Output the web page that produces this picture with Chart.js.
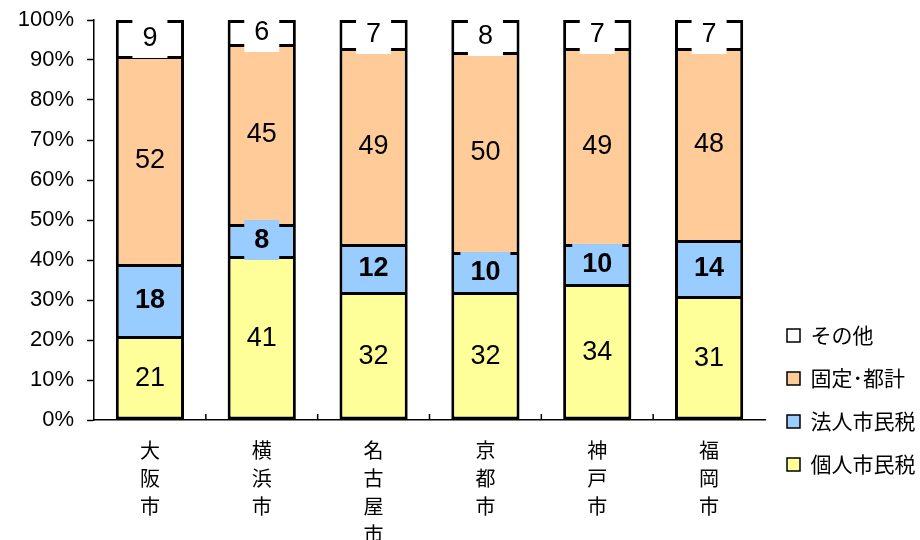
<!DOCTYPE html>
<html lang="ja">

<head>
  <meta charset="UTF-8" />
  <title>市税収入の内訳</title>
  <script src="https://cdn.jsdelivr.net/npm/chart.js"></script>
  <style>
    * {
      padding: 0;
      margin: 0;
    }

    html {
      background-color: #ffffff;
    }

    .graph {
      position: relative;
      width: 920px;
      height: 540px;
    }
  </style>
</head>

<body>
  <div class="graph">
    <canvas id="taxGraph" aria-label="市税収入の内訳" role="img"></canvas>
  </div>
</body>

<script>
  // Cities and tax shares (%)
  const cities = ["大阪市", "横浜市", "名古屋市", "京都市", "神戸市", "福岡市"];
  const kojin = [21, 41, 32, 32, 34, 31];   // 個人市民税
  const houjin = [18, 8, 12, 10, 10, 14];   // 法人市民税
  const kotei = [52, 45, 49, 50, 49, 48];   // 固定・都計
  const sonota = [9, 6, 7, 8, 7, 7];        // その他
  const yTicks = [0, 10, 20, 30, 40, 50, 60, 70, 80, 90, 100];

  const latin = "'Liberation Sans', Arial, sans-serif";
  const cjk = "'Noto Sans CJK JP', sans-serif";

  // bottom segment gets a full border, upper ones skip the bottom edge
  const fullBorder = { top: 3, right: 3, bottom: 3, left: 3 };
  const openBorder = { top: 3, right: 3, bottom: 0, left: 3 };

  // Value labels with a filled box behind them (the box hides segment borders)
  const boxLabels = {
    id: 'boxLabels',
    afterDatasetsDraw(chart) {
      const ctx = chart.ctx;
      ctx.save();
      ctx.textAlign = 'center';
      ctx.textBaseline = 'middle';
      chart.data.datasets.forEach((ds, di) => {
        const meta = chart.getDatasetMeta(di);
        ctx.font = (ds.boldLabel ? 'bold ' : '') + '27px ' + latin;
        meta.data.forEach((bar, i) => {
          const p = bar.getProps(['x', 'y', 'base'], true);
          const cy = (p.y + p.base) / 2;
          const text = String(ds.data[i]);
          const w = ctx.measureText(text).width + 20;
          const h = 40;
          ctx.fillStyle = ds.backgroundColor;
          ctx.fillRect(p.x - w / 2, cy - h / 2, w, h);
          ctx.fillStyle = '#000';
          ctx.fillText(text, p.x, cy + 1);
        });
      });
      ctx.restore();
    }
  };

  // Small upward ticks on the x axis between categories
  const innerTicks = {
    id: 'innerTicks',
    afterDraw(chart) {
      const ctx = chart.ctx;
      const xs = chart.scales.x;
      const bottom = chart.chartArea.bottom;
      ctx.save();
      ctx.strokeStyle = '#000';
      ctx.lineWidth = 1.5;
      for (let i = 0; i < cities.length - 1; i++) {
        const x = (xs.getPixelForValue(i) + xs.getPixelForValue(i + 1)) / 2;
        ctx.beginPath();
        ctx.moveTo(x, bottom);
        ctx.lineTo(x, bottom - 6);
        ctx.stroke();
      }
      ctx.restore();
    }
  };

  // The stacked city names run into the bottom padding; widen the label clip
  const labelRoom = {
    id: 'labelRoom',
    afterLayout(chart) {
      chart.scales.x.bottom = chart.height;
    }
  };

  const taxGraph = document.getElementById('taxGraph');

  const taxGraphChart = new Chart(taxGraph, {
    type: 'bar',
    data: {
      labels: cities,
      datasets: [
        {
          label: "個人市民税",
          data: kojin,
          backgroundColor: "#ffff99",
          borderColor: "#000",
          borderWidth: fullBorder
        }, {
          label: "法人市民税",
          data: houjin,
          backgroundColor: "#99ccff",
          borderColor: "#000",
          borderWidth: openBorder,
          boldLabel: true
        }, {
          label: "固定･都計",
          data: kotei,
          backgroundColor: "#ffcc99",
          borderColor: "#000",
          borderWidth: openBorder
        }, {
          label: "その他",
          data: sonota,
          backgroundColor: "#ffffff",
          borderColor: "#000",
          borderWidth: openBorder
        }
      ]
    },
    options: {
      responsive: true,
      maintainAspectRatio: false,
      animation: false,
      datasets: {
        bar: {
          borderSkipped: false,
          barPercentage: 0.61,
          categoryPercentage: 1
        }
      },
      layout: {
        padding: { top: 2, right: 0, bottom: 43, left: 0 }
      },
      scales: {
        x: {
          stacked: true,
          grid: { display: false },
          border: { color: '#000', width: 1.5 },
          ticks: {
            color: '#000',
            padding: 8,
            maxRotation: 0,
            font: { family: cjk, size: 20, lineHeight: 1.4 },
            callback: function (value, index) {
              return cities[index].split('');
            }
          },
          afterFit: function (scale) {
            scale.height = 77;
          }
        },
        y: {
          stacked: true,
          min: 0,
          max: 100,
          afterBuildTicks: function (scale) {
            scale.ticks = yTicks.map(v => ({ value: v }));
          },
          grid: {
            drawOnChartArea: false,
            tickLength: 7,
            tickColor: '#000',
            tickWidth: 1.5
          },
          border: { color: '#000', width: 1.5 },
          ticks: {
            color: '#000',
            padding: 13,
            font: { family: latin, size: 22 },
            callback: function (value) {
              return value + '%';
            }
          },
          afterFit: function (scale) {
            scale.width = 94;
            // tick padding would otherwise push the plot top down
            scale.paddingTop = 20;
          }
        }
      },
      plugins: {
        tooltip: { enabled: false },
        legend: {
          position: 'right',
          align: 'end',
          reverse: true,
          maxWidth: 155,
          labels: {
            color: '#000',
            boxWidth: 13,
            boxHeight: 13,
            padding: 22,
            font: { family: cjk, size: 21 },
            generateLabels: function (chart) {
              const items = Chart.defaults.plugins.legend.labels.generateLabels(chart);
              items.forEach(item => {
                item.lineWidth = 1.5;
                item.strokeStyle = '#000';
              });
              return items;
            }
          }
        }
      }
    },
    plugins: [boxLabels, innerTicks, labelRoom]
  });
</script>

</html>
